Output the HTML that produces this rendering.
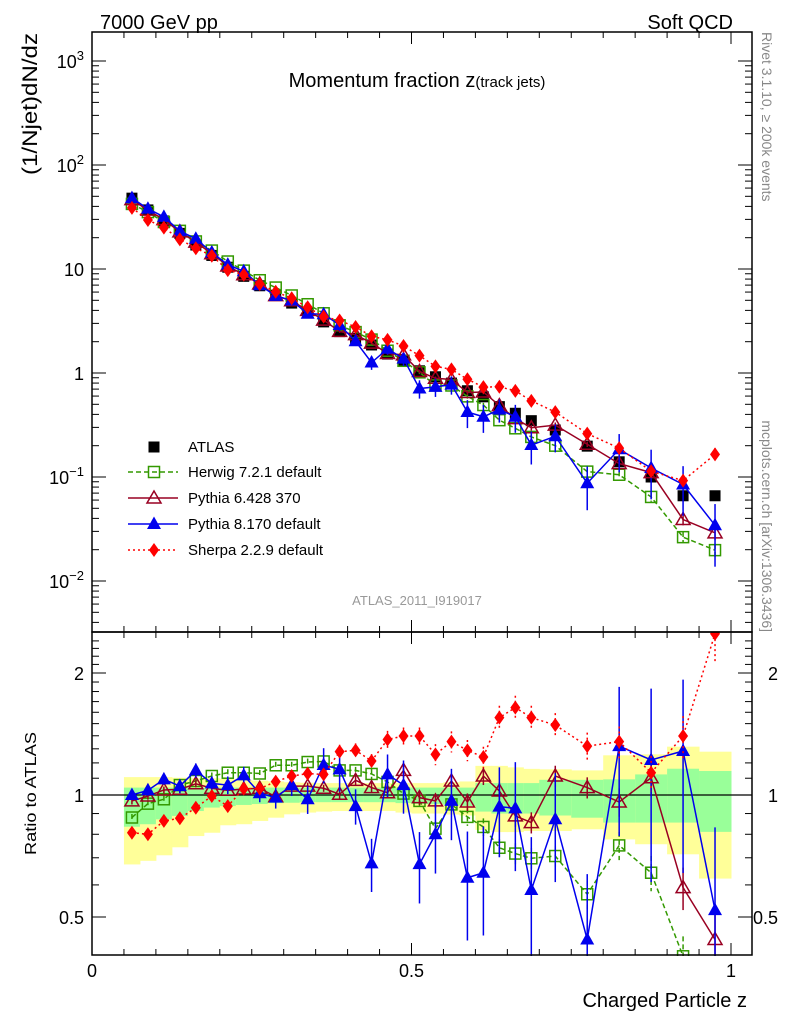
<!DOCTYPE html>
<html><head><meta charset="utf-8"><style>
body{margin:0;background:#fff;}
svg{display:block;font-family:"Liberation Sans",sans-serif;}
</style></head><body>
<svg id="chart" width="786" height="1024" viewBox="0 0 786 1024" xmlns="http://www.w3.org/2000/svg">
<defs>
<clipPath id="cm"><rect x="92" y="32" width="660" height="600"/></clipPath>
<clipPath id="cr"><rect x="92" y="632" width="660" height="324"/></clipPath>
</defs>
<g id="bands" clip-path="url(#cr)"></g>
<g id="ratio" clip-path="url(#cr)"></g>
<g id="main" clip-path="url(#cm)"></g>
<g id="axes"></g>
<text x="100" y="29" font-size="20">7000 GeV pp</text>
<text x="733" y="29" font-size="20" text-anchor="end">Soft QCD</text>
<text x="417" y="87" font-size="20" text-anchor="middle">Momentum fraction z<tspan font-size="15">(track jets)</tspan></text>
<text x="417" y="605" font-size="13" fill="#999" text-anchor="middle">ATLAS_2011_I919017</text>
<text transform="translate(37,33) rotate(-90)" font-size="21" text-anchor="end" textLength="142" lengthAdjust="spacingAndGlyphs">(1/Njet)dN/dz</text>
<text transform="translate(36,855) rotate(-90)" font-size="16" textLength="123" lengthAdjust="spacingAndGlyphs">Ratio to ATLAS</text>
<text x="747" y="1007" font-size="20" text-anchor="end">Charged Particle z</text>
<text transform="translate(762,32) rotate(90)" font-size="14" fill="#888">Rivet 3.1.10, ≥ 200k events</text>
<text transform="translate(762,632) rotate(90)" font-size="14" fill="#888" text-anchor="end">mcplots.cern.ch [arXiv:1306.3436]</text>
<g id="legend"></g>
</svg>
<script>
const zLo=[0.05,0.075,0.1,0.125,0.15,0.175,0.2,0.225,0.25,0.275,0.3,0.325,0.35,0.375,0.4,0.425,0.45,0.475,0.5,0.525,0.55,0.575,0.6,0.625,0.65,0.675,0.7,0.75,0.8,0.85,0.9,0.95];
const zHi=[0.075,0.1,0.125,0.15,0.175,0.2,0.225,0.25,0.275,0.3,0.325,0.35,0.375,0.4,0.425,0.45,0.475,0.5,0.525,0.55,0.575,0.6,0.625,0.65,0.675,0.7,0.75,0.8,0.85,0.9,0.95,1.0];
const atlas=[48,37,29,22,17,13.5,10.4,8.5,6.9,5.6,4.7,3.8,3.1,2.5,2.15,1.86,1.52,1.3,1.05,0.92,0.8,0.675,0.59,0.475,0.41,0.348,0.283,0.198,0.14,0.10,0.066,0.066];
const herwigRatio=[0.88,0.952,0.976,1.058,1.083,1.114,1.135,1.135,1.13,1.184,1.184,1.206,1.21,1.15,1.15,1.127,1.077,1.008,0.967,0.826,0.948,0.883,0.834,0.741,0.717,0.698,0.707,0.569,0.751,0.643,0.40,0.30];
const pythia6Ratio=[0.967,0.994,1.029,1.033,1.066,1.039,1.027,1.035,1.039,0.99,1.052,1.052,1.039,1.004,1.087,1.043,1.013,1.15,0.985,0.967,1.083,0.961,1.114,1.023,0.888,0.855,1.114,1.043,0.961,1.103,0.591,0.44];
const pythia8Ratio=[1.0,1.027,1.093,1.052,1.15,1.068,1.058,1.118,1.01,0.985,1.058,0.976,1.186,1.157,0.939,0.678,1.124,1.058,0.675,0.80,0.967,0.625,0.643,0.936,0.927,0.583,0.871,0.44,1.32,1.22,1.284,0.52];
const sherpaRatio=[0.807,0.80,0.863,0.876,0.93,0.994,0.939,1.037,1.037,1.079,1.114,1.129,1.124,1.279,1.289,1.213,1.371,1.398,1.398,1.26,1.354,1.289,1.241,1.552,1.643,1.552,1.488,1.32,1.354,1.135,1.398,2.5];
const herwigErr=[0.02,0.02,0.02,0.02,0.02,0.02,0.02,0.02,0.02,0.02,0.02,0.02,0.02,0.02,0.02,0.03,0.03,0.03,0.04,0.04,0.04,0.05,0.05,0.05,0.06,0.06,0.06,0.08,0.08,0.1,0.12,0.15];
const pythia6Err=[0.02,0.02,0.02,0.02,0.02,0.02,0.02,0.02,0.02,0.02,0.02,0.02,0.02,0.03,0.03,0.03,0.03,0.04,0.04,0.04,0.04,0.05,0.05,0.05,0.06,0.06,0.06,0.06,0.08,0.1,0.12,0.15];
const pythia8Err=[0.02,0.03,0.03,0.04,0.04,0.04,0.05,0.05,0.05,0.06,0.06,0.08,0.1,0.12,0.1,0.15,0.12,0.15,0.2,0.2,0.2,0.3,0.3,0.25,0.3,0.35,0.3,0.45,0.4,0.5,0.5,0.6];
const sherpaErr=[0.02,0.02,0.02,0.02,0.02,0.02,0.02,0.02,0.02,0.03,0.03,0.03,0.03,0.04,0.04,0.04,0.05,0.05,0.05,0.06,0.06,0.06,0.06,0.07,0.07,0.07,0.07,0.08,0.09,0.1,0.12,0.15];
const yellowUp=[1.107,1.107,1.107,1.103,1.10,1.10,1.095,1.09,1.085,1.08,1.075,1.072,1.07,1.07,1.07,1.07,1.07,1.07,1.07,1.07,1.075,1.08,1.18,1.18,1.17,1.16,1.157,1.15,1.253,1.26,1.316,1.279];
const yellowLo=[0.674,0.688,0.71,0.743,0.792,0.807,0.842,0.847,0.863,0.879,0.896,0.905,0.91,0.913,0.913,0.913,0.913,0.905,0.90,0.90,0.895,0.89,0.82,0.81,0.81,0.815,0.815,0.823,0.777,0.756,0.714,0.622];
const greenUp=[1.043,1.043,1.043,1.043,1.043,1.043,1.043,1.043,1.043,1.043,1.043,1.043,1.043,1.043,1.043,1.043,1.043,1.043,1.043,1.043,1.043,1.043,1.07,1.07,1.07,1.07,1.09,1.09,1.093,1.124,1.161,1.146];
const greenLo=[0.835,0.847,0.871,0.888,0.913,0.931,0.939,0.945,0.95,0.955,0.957,0.96,0.96,0.96,0.96,0.96,0.96,0.955,0.95,0.95,0.945,0.94,0.91,0.9,0.9,0.9,0.89,0.879,0.855,0.855,0.855,0.811];
const mainTickLabels=["10<tspan dy='-8' font-size='13'>−2</tspan>","10<tspan dy='-8' font-size='13'>−1</tspan>","1","10","10<tspan dy='-8' font-size='13'>2</tspan>","10<tspan dy='-8' font-size='13'>3</tspan>"];
const mainTickVals=[0.01,0.1,1,10,100,1000];
const ratioTickVals=[0.5,1,2];
const xTickVals=[0,0.5,1];

const NS="http://www.w3.org/2000/svg";
function X(z){return 92+z*639;}
function Y(v){return 373-104*Math.log10(v);}
function R(r){return 795-405.3*Math.log10(r);}
function mk(p,tag,at){const e=document.createElementNS(NS,tag);for(const k in at)e.setAttribute(k,at[k]);p.appendChild(e);return e;}
const gB=document.getElementById('bands'),gR=document.getElementById('ratio'),gM=document.getElementById('main'),gA=document.getElementById('axes'),gL=document.getElementById('legend');

for(let i=0;i<zLo.length;i++){
 let e=mk(gB,'rect',{x:X(zLo[i]),y:R(yellowUp[i]),width:X(zHi[i])-X(zLo[i])+0.5,height:R(yellowLo[i])-R(yellowUp[i]),fill:'#ffff99'});
 
 
 e=mk(gB,'rect',{x:X(zLo[i]),y:R(greenUp[i]),width:X(zHi[i])-X(zLo[i])+0.5,height:R(greenLo[i])-R(greenUp[i]),fill:'#99ff99'});
 
 
}
mk(gB,'line',{x1:92,x2:752,y1:R(1),y2:R(1),stroke:'#000','stroke-width':1.2});

function marker(g,type,x,y,col){
 let e;
 if(type==='sq') e=mk(g,'rect',{x:x-5.5,y:y-5.5,width:11,height:11,fill:'#000'});
 else if(type==='osq') e=mk(g,'rect',{x:x-5.5,y:y-5.5,width:11,height:11,fill:'#fff','fill-opacity':0,stroke:col,'stroke-width':1.5});
 else if(type==='otri') e=mk(g,'path',{d:`M${x},${y-7}L${x+7},${y+5}L${x-7},${y+5}Z`,fill:'none',stroke:col,'stroke-width':1.5});
 else if(type==='tri') e=mk(g,'path',{d:`M${x},${y-7.5}L${x+7},${y+5}L${x-7},${y+5}Z`,fill:col});
 else e=mk(g,'path',{d:`M${x},${y-7}L${x+5},${y}L${x},${y+7}L${x-5},${y}Z`,fill:col});
 return e;
}
const series=[
 {name:'herwig',ratio:herwigRatio,err:herwigErr,col:'#339900',m:'osq',dash:'5,3',label:'Herwig 7.2.1 default'},
 {name:'pythia6',ratio:pythia6Ratio,err:pythia6Err,col:'#990022',m:'otri',dash:'',label:'Pythia 6.428 370'},
 {name:'pythia8',ratio:pythia8Ratio,err:pythia8Err,col:'#0000ee',m:'tri',dash:'',label:'Pythia 8.170 default'},
 {name:'sherpa',ratio:sherpaRatio,err:sherpaErr,col:'#ff0000',m:'dia',dash:'2,3',label:'Sherpa 2.2.9 default'}
];
for(let i=0;i<atlas.length;i++){
 const e=marker(gM,'sq',X((zLo[i]+zHi[i])/2),Y(atlas[i]),'#000');
 
 
}
series.forEach(s=>{
 const vals=atlas.map((a,i)=>a*s.ratio[i]);
 [[gM,vals,Y],[gR,s.ratio,R]].forEach(([g,v,F])=>{
  const pts=v.map((d,i)=>X((zLo[i]+zHi[i])/2)+','+F(d)).join(' ');
  const l=mk(g,'polyline',{points:pts,fill:'none',stroke:s.col,'stroke-width':1.5,'stroke-dasharray':s.dash});
  
  
  v.forEach((d,i)=>{
   const x=X((zLo[i]+zHi[i])/2);
   const eb=mk(g,'line',{x1:x,x2:x,y1:F(d*(1+s.err[i])),y2:F(d*Math.max(0.01,1-s.err[i])),stroke:s.col,'stroke-width':1.5,'stroke-dasharray':s.dash});
   
   
   const m=marker(g,s.m,x,F(d),s.col);
   
   
  });
 });
});
[[32,632],[632,955]].forEach(([t,b])=>{
 mk(gA,'rect',{x:92,y:t,width:660,height:b-t,fill:'none',stroke:'#000','stroke-width':1.5});
 for(let k=0;k<=20;k++){const z=k*0.05;if(z>1.033)break;const L=(k%10===0)?12:6;
  mk(gA,'line',{x1:X(z),x2:X(z),y1:b,y2:b-L,stroke:'#000'});
  mk(gA,'line',{x1:X(z),x2:X(z),y1:t,y2:t+L,stroke:'#000'});}
});
for(let d=-3;d<=3;d++){for(let m=1;m<10;m++){const v=m*Math.pow(10,d);const y=Y(v);if(y<32||y>632)continue;const L=m===1?14:7;
 mk(gA,'line',{x1:92,x2:92+L,y1:y,y2:y,stroke:'#000'});mk(gA,'line',{x1:752,x2:752-L,y1:y,y2:y,stroke:'#000'});}}
mainTickVals.forEach((v,i)=>{const t=mk(gA,'text',{x:84,y:Y(v)+7,'font-size':18,'text-anchor':'end'});t.innerHTML=mainTickLabels[i];
 
 });
for(let r=0.4;r<=2.5;r+=0.1){const y=R(r);if(y<632||y>955)continue;const maj=[0.5,1,2].some(q=>Math.abs(q-r)<1e-6);const L=maj?14:7;
 mk(gA,'line',{x1:92,x2:92+L,y1:y,y2:y,stroke:'#000'});mk(gA,'line',{x1:752,x2:752-L,y1:y,y2:y,stroke:'#000'});}
ratioTickVals.forEach(v=>{[[84,'end'],[778,'end']].forEach(([x,a])=>{const t=mk(gA,'text',{x:x,y:R(v)+7,'font-size':18,'text-anchor':a});t.textContent=String(v);
 
 });});
xTickVals.forEach(v=>{const t=mk(gA,'text',{x:X(v),y:977,'font-size':18,'text-anchor':'middle'});t.textContent=String(v);
 
 });
const ly=[447,472,498,524,550];
let e=marker(gL,'sq',154,ly[0],'#000');


let t=mk(gL,'text',{x:188,y:ly[0]+5,'font-size':15});t.textContent='ATLAS';
series.forEach((s,i)=>{const y=ly[i+1];
 mk(gL,'line',{x1:128,x2:178,y1:y,y2:y,stroke:s.col,'stroke-width':1.5,'stroke-dasharray':s.dash});
 const m=marker(gL,s.m,154,y,s.col);
 
 
 const tx=mk(gL,'text',{x:188,y:y+5,'font-size':15});tx.textContent=s.label;
 
 });
</script>
</body></html>
